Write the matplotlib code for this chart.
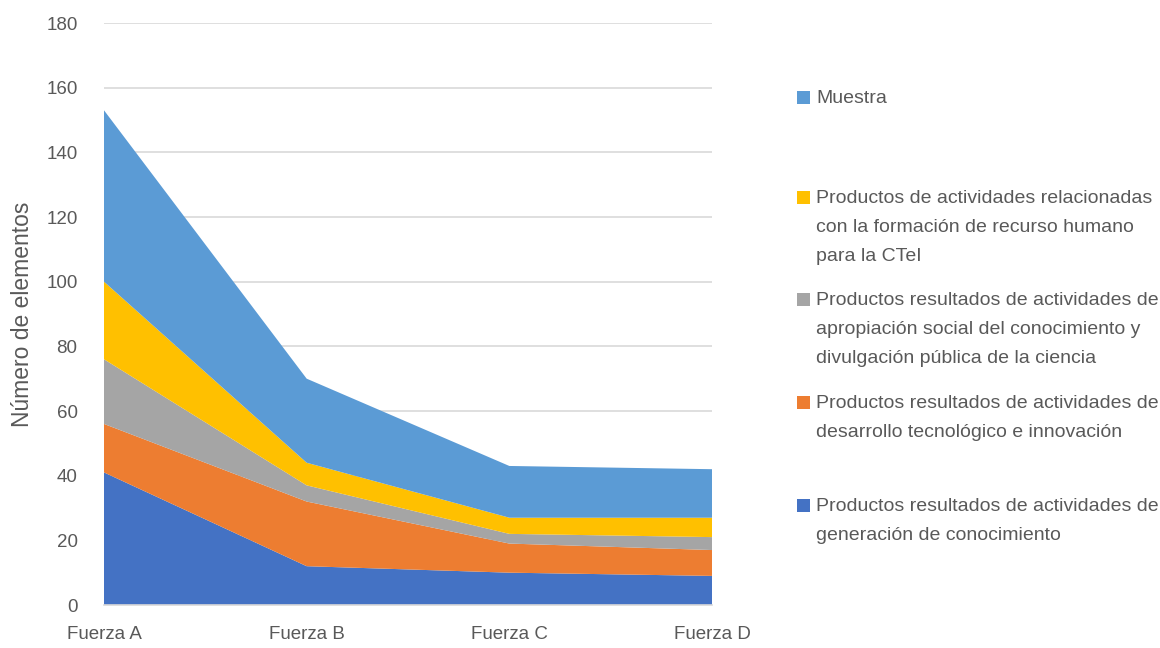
import matplotlib
matplotlib.use("Agg")
import matplotlib.pyplot as plt
from matplotlib.patches import Rectangle
import numpy as np

plt.rcParams['font.family'] = ['Liberation Sans', 'DejaVu Sans']

# datos
fuerzas = ["Fuerza A", "Fuerza B", "Fuerza C", "Fuerza D"]
generacion = [41, 12, 10, 9]
desarrollo = [15, 20, 9, 8]
apropiacion = [20, 5, 3, 4]
formacion = [24, 7, 5, 6]
muestra = [53, 26, 16, 15]

nombres = [
    "Productos resultados de actividades de\ngeneración de conocimiento",
    "Productos resultados de actividades de\ndesarrollo tecnológico e innovación",
    "Productos resultados de actividades de\napropiación social del conocimiento y\ndivulgación pública de la ciencia",
    "Productos de actividades relacionadas\ncon la formación de recurso humano\npara la CTeI",
    "Muestra",
]
colores = ["#4472C4", "#ED7D31", "#A5A5A5", "#FFC000", "#5B9BD5"]
texto = "#595959"
fs = 13.5

W, H = 1160, 648
fig = plt.figure(figsize=(W / 100, H / 100), dpi=100)
ax = fig.add_axes([104 / W, 1 - 605 / H, (712 - 104) / W, (605 - 23) / H])

x = np.arange(len(fuerzas))
ax.stackplot(x, generacion, desarrollo, apropiacion, formacion, muestra,
             colors=colores, linewidth=0, zorder=2)

ax.set_xlim(0, 3)
ax.set_ylim(0, 180)
ax.set_yticks(range(0, 181, 20))
ax.set_xticks(x)
ax.set_xticklabels(fuerzas)
ax.grid(axis='y', color='#D9D9D9', linewidth=1.2, zorder=1)
ax.set_axisbelow(True)
for s in ['top', 'right', 'left']:
    ax.spines[s].set_visible(False)
ax.spines['bottom'].set_color('#D9D9D9')
ax.spines['bottom'].set_linewidth(1.2)
ax.tick_params(axis='both', length=0, labelsize=fs, colors=texto)
ax.tick_params(axis='y', pad=19)
ax.tick_params(axis='x', pad=15)

ax.set_ylabel("Número de elementos", fontsize=16.5, color=texto)
ax.yaxis.set_label_coords(-0.115, 0.5)

# leyenda manual (orden invertido como en el original)
tops = [498, 395, 292, 190, 90]
for nombre, col, yt in zip(nombres, colores, tops):
    fig.text(816 / W, 1 - yt / H, nombre, fontsize=14, color=texto,
             va='top', ha='left', linespacing=1.93)
    fig.patches.append(Rectangle((797 / W, 1 - (yt + 14) / H), 13 / W, 13 / H,
                                 transform=fig.transFigure, facecolor=col,
                                 edgecolor='none'))

fig.savefig("out.png", dpi=100)
